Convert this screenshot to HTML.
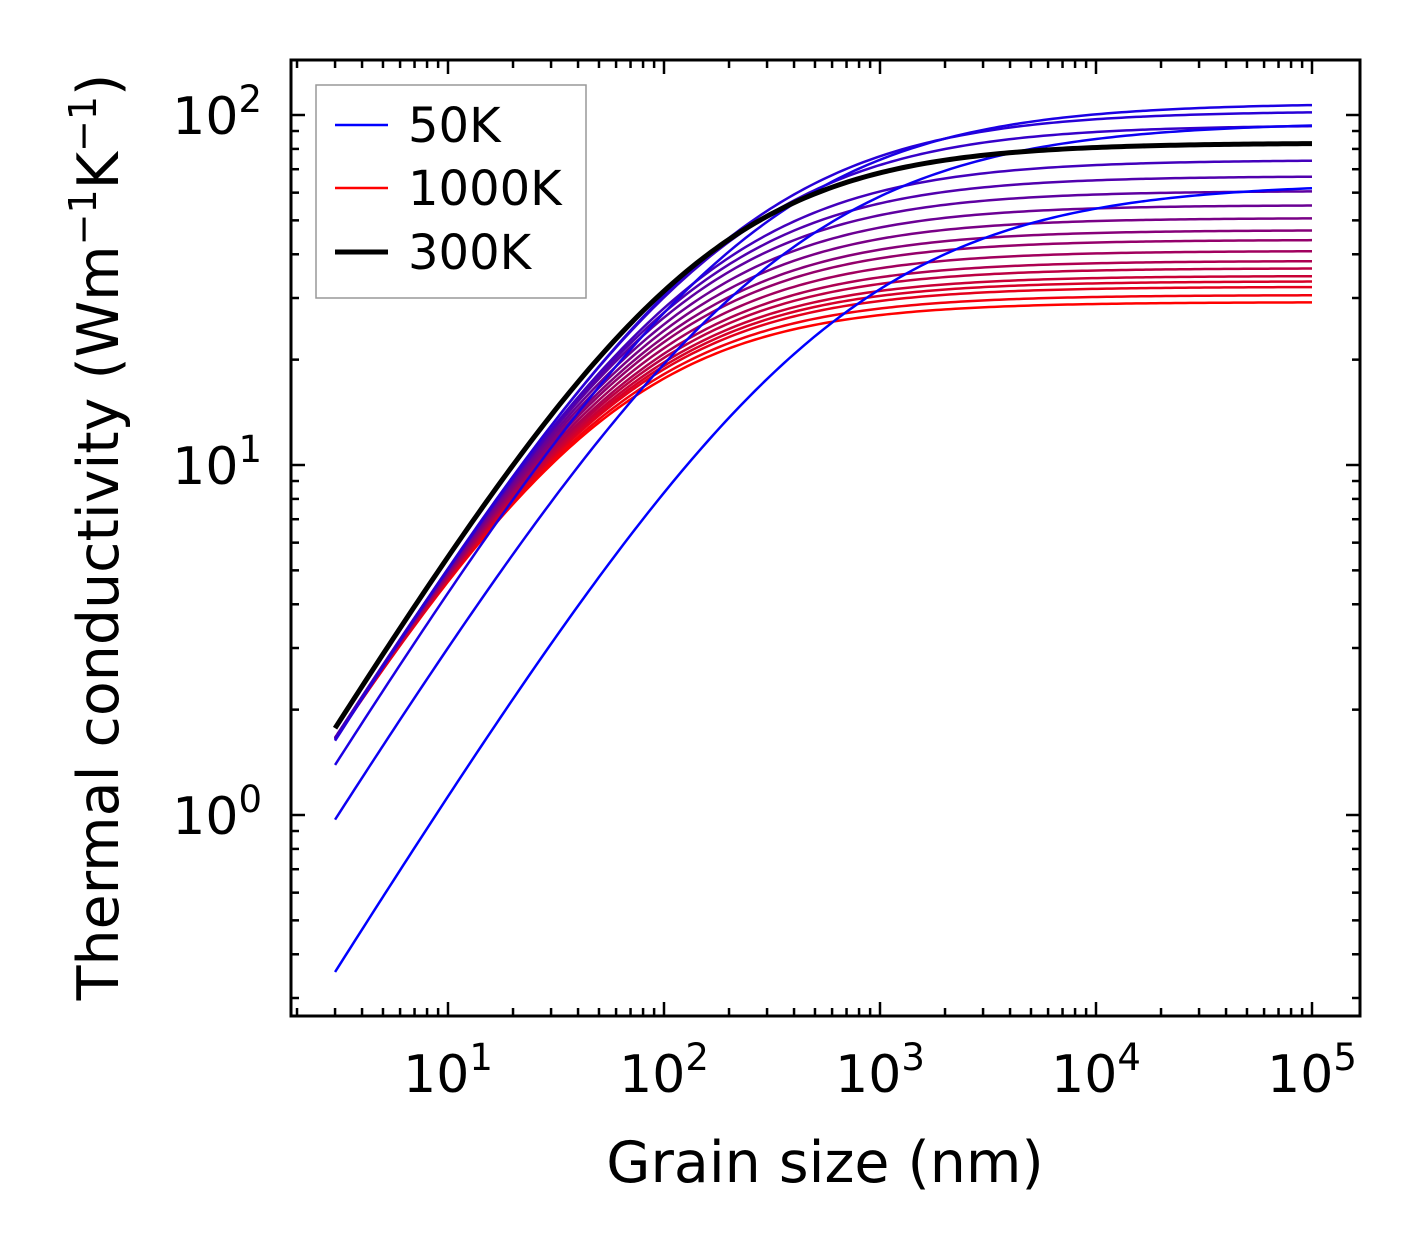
<!DOCTYPE html>
<html><head><meta charset="utf-8"><style>
body{margin:0;background:#fff;}
svg text{font-family:"DejaVu Sans","Liberation Sans",sans-serif;fill:#000;}
</style></head><body>
<svg id="chart" width="1421" height="1254" viewBox="0 0 1421 1254" xmlns="http://www.w3.org/2000/svg">
<rect width="1421" height="1254" fill="#fff"/>
<g id="curves"></g>
<g id="ticks"></g>
<rect x="291" y="60" width="1069" height="956" fill="none" stroke="#000" stroke-width="3"/>
<g id="labels"></g>
<text x="825" y="1182" font-size="57" text-anchor="middle">Grain size (nm)</text>
<text transform="translate(118,537) rotate(-90)" font-size="57" text-anchor="middle">Thermal conductivity (Wm<tspan dy="-22" font-size="38">−1</tspan><tspan dy="22">K</tspan><tspan dy="-22" font-size="38">−1</tspan><tspan dy="22">)</tspan></text>
<g>
<rect x="316" y="85" width="270" height="213" fill="#fff" stroke="#999" stroke-width="1.5"/>
<line x1="335" y1="125" x2="388" y2="125" stroke="#0000ff" stroke-width="2.5"/>
<text x="408" y="142" font-size="48">50K</text>
<line x1="335" y1="188" x2="388" y2="188" stroke="#ff0000" stroke-width="2.5"/>
<text x="408" y="205" font-size="48">1000K</text>
<line x1="335" y1="252" x2="388" y2="252" stroke="#000" stroke-width="5"/>
<text x="408" y="269" font-size="48">300K</text>
</g>
</svg>
<script>
// data
const temperatures = [50,100,150,200,250,300,350,400,450,500,550,600,650,700,750,800,850,900,950,1000];
const plateauK = [64,95.5,108.2,102.7,93.6,74.4,66.9,60.7,55.3,50.8,46.9,44.0,40.9,38.3,36.5,34.7,33.5,32.3,30.6,29.2];
const startK = [0.356,0.97,1.39,1.63,1.64,1.65,1.65,1.66,1.66,1.66,1.66,1.66,1.66,1.66,1.66,1.66,1.65,1.65,1.65,1.65];
const shapeExp = [0.7,0.7,0.75,0.78,0.8,0.82,0.84,0.85,0.85,0.85,0.85,0.85,0.85,0.85,0.85,0.85,0.85,0.85,0.85,0.85];
const black300 = {start:1.77, plateau:83.2, a:0.85};
const xRange = [3, 1e5];
const xTickLabels = ['1','2','3','4','5'];
const yTickLabels = ['0','1','2'];

const NS='http://www.w3.org/2000/svg';
const X0=448, XD=216, Y0=815, YD=350;
const xs = v => X0 + XD*(Math.log10(v)-1);
const ys = v => Y0 - YD*Math.log10(v);
function el(t,a){const e=document.createElementNS(NS,t);for(const k in a)e.setAttribute(k,a[k]);return e;}

function curvePath(k3,kinf,a){
  const L0 = 3*Math.pow(Math.pow(kinf/k3,a)-1,1/a);
  let d='';
  const n=200, l0=Math.log10(xRange[0]), l1=Math.log10(xRange[1]);
  for(let i=0;i<=n;i++){
    const L=Math.pow(10,l0+(l1-l0)*i/n);
    const k=kinf/Math.pow(1+Math.pow(L0/L,a),1/a);
    d+=(i?'L':'M')+xs(L).toFixed(2)+','+ys(k).toFixed(2);
  }
  return d;
}
const cg=document.getElementById('curves');
for(let i=temperatures.length-1;i>=0;i--){
  const f=i/(temperatures.length-1);
  const col='rgb('+Math.round(255*f)+',0,'+Math.round(255*(1-f))+')';
  const p=el('path',{d:curvePath(startK[i],plateauK[i],shapeExp[i]),fill:'none',stroke:col,'stroke-width':2.5});
  
  
  cg.appendChild(p);
}
const bp=el('path',{d:curvePath(black300.start,black300.plateau,black300.a),fill:'none',stroke:'#000','stroke-width':5});


cg.appendChild(bp);

const tg=document.getElementById('ticks');
function tick(x1,y1,x2,y2){const l=el('line',{x1,y1,x2,y2,stroke:'#000','stroke-width':2.5});tg.appendChild(l);}
for(let dcd=0;dcd<=5;dcd++){
  for(let m=1;m<=9;m++){
    const v=m*Math.pow(10,dcd), x=xs(v);
    if(x<292||x>1359)continue;
    const len=m===1?14:8;
    tick(x,1016,x,1016-len);tick(x,60,x,60+len);
  }
}
for(let dcd=-1;dcd<=2;dcd++){
  for(let m=1;m<=9;m++){
    const v=m*Math.pow(10,dcd), y=ys(v);
    if(y<61||y>1015)continue;
    const len=m===1?14:8;
    tick(291,y,291+len,y);tick(1360,y,1360-len,y);
  }
}
const lg=document.getElementById('labels');
xTickLabels.forEach((e,i)=>{
  const x=xs(Math.pow(10,+e));
  const t=el('text',{x:x,y:1092,'font-size':52,'text-anchor':'middle'});
  t.innerHTML='10<tspan dy="-22" font-size="37">'+e+'</tspan>';
  
  
  lg.appendChild(t);
});
yTickLabels.forEach((e,i)=>{
  const y=ys(Math.pow(10,+e));
  const t=el('text',{x:262,y:y+19,'font-size':52,'text-anchor':'end'});
  t.innerHTML='10<tspan dy="-22" font-size="37">'+e+'</tspan>';
  
  
  lg.appendChild(t);
});
</script>
</body></html>
